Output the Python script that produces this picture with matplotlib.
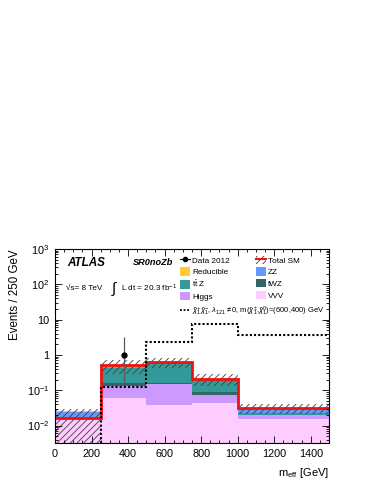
import matplotlib
matplotlib.use('Agg')
import matplotlib.pyplot as plt
import numpy as np
from matplotlib.patches import Patch
from matplotlib.lines import Line2D
from matplotlib.ticker import FixedLocator, FuncFormatter, MultipleLocator, LogLocator, NullFormatter

plt.rcParams['font.family'] = ['Liberation Sans', 'DejaVu Sans']
plt.rcParams['mathtext.fontset'] = 'custom'
plt.rcParams['mathtext.rm'] = 'Liberation Sans'
plt.rcParams['mathtext.it'] = 'Liberation Sans:italic'
plt.rcParams['mathtext.bf'] = 'Liberation Sans:bold'
plt.rcParams['hatch.linewidth'] = 0.6

# ---------------- data ----------------
edges = [0, 250, 500, 750, 1000, 1500]
vvv = [0.0158, 0.060, 0.039, 0.043, 0.0155]
higgs = [0.0005, 0.074, 0.107, 0.032, 0.0038]
twz = [0.0003, 0.026, 0.014, 0.012, 0.0012]
ttz = [0.0004, 0.270, 0.440, 0.113, 0.0015]
zz = [0.0075, 0.012, 0.010, 0.004, 0.0070]
reducible = [0.0005, 0.040, 0.010, 0.003, 0.0010]
total_sm = [0.0162, 0.51, 0.62, 0.208, 0.031]
err_up = [0.013, 0.19, 0.20, 0.08, 0.010]
err_down = [0.0162, 0.23, 0.20, 0.08, 0.010]
signal = [1e-6, 0.12, 2.3, 7.3, 3.7]
data_x = [375]
data_y = [1.0]
data_err_lo = [0.827]
data_err_hi = [2.3]

components = [
    ('VVV', vvv, '#ffccff'),
    ('Higgs', higgs, '#cc99ff'),
    ('tWZ', twz, '#336666'),
    (r't$\bar{\rm t}$ Z', ttz, '#339999'),
    ('ZZ', zz, '#6699ff'),
    ('Reducible', reducible, '#ffcc33'),
]

W, H = 374, 484
fig = plt.figure(figsize=(W / 100, H / 100), dpi=100)
ax = fig.add_axes([55 / W, 1 - 443 / H, 274 / W, 194 / H])
ax.set_yscale('log')
ymin = 3.2e-3
ax.set_xlim(0, 1500)
ax.set_ylim(ymin, 1e3)

floor = 1e-6
bottom = np.full(len(vvv), floor)
handles = {}
for name, vals, col in components:
    top = bottom + np.array(vals)
    ax.stairs(top, edges, baseline=bottom, fill=True, color=col, lw=0)
    handles[name] = Patch(facecolor=col, edgecolor='none')
    bottom = top

tot = np.array(total_sm)
up = tot + np.array(err_up)
dn = np.maximum(tot - np.array(err_down), floor)
ax.stairs(up, edges, baseline=dn, fill=True, facecolor='none', edgecolor='0.25',
          hatch='/////', lw=0)
ax.stairs(tot, edges, baseline=None, color='#ee1111', lw=2.0)
ax.stairs(signal, edges, baseline=None, color='black', lw=1.5, ls=(0, (1, 1)))
ax.errorbar(data_x, data_y, yerr=[data_err_lo, data_err_hi], fmt='o', color='black',
            ms=3.5, elinewidth=0.9, ecolor='0.35', capsize=0)

# ---------------- axes styling ----------------
for sp in ax.spines.values():
    sp.set_linewidth(0.8)
ax.xaxis.set_major_locator(MultipleLocator(200))
ax.xaxis.set_minor_locator(MultipleLocator(50))
ax.yaxis.set_major_locator(FixedLocator([1e-2, 1e-1, 1, 10, 100, 1000]))
ax.yaxis.set_minor_locator(LogLocator(base=10, subs=np.arange(2, 10)))
ax.yaxis.set_minor_formatter(NullFormatter())
ylabels = {1e-2: r'$10^{-2}$', 1e-1: r'$10^{-1}$', 1: '1', 10: '10', 100: r'$10^{2}$', 1000: r'$10^{3}$'}
ax.yaxis.set_major_formatter(FuncFormatter(lambda v, p: min(ylabels.items(), key=lambda kv: abs(np.log10(kv[0]) - np.log10(v)))[1]))
ax.tick_params(which='both', direction='in', top=True, right=True, labelsize=7.8, width=0.6)
ax.tick_params(which='major', length=5, pad=4)
ax.tick_params(which='minor', length=2.5)

ax.set_ylabel('Events / 250 GeV', fontsize=8.3, loc='top', labelpad=4)
ax.set_xlabel(r'm$_{\rm eff}$ [GeV]', fontsize=8.0, loc='right', labelpad=5)

# ---------------- labels ----------------
ax.text(0.044, 0.93, 'ATLAS', transform=ax.transAxes, fontsize=8.4, fontweight='bold',
        fontstyle='italic', va='center', ha='left')
ax.text(0.285, 0.93, 'SR0noZb', transform=ax.transAxes, fontsize=6.6, fontweight='bold',
        fontstyle='italic', va='center', ha='left')
ax.text(0.04, 0.795, '\u221as= 8 TeV', transform=ax.transAxes, fontsize=5.9, va='center', ha='left')
ax.text(0.205, 0.795, r'$\int$', transform=ax.transAxes, fontsize=11, va='center', ha='left')
ax.text(0.242, 0.795, r'L dt = 20.3 fb$^{-1}$', transform=ax.transAxes, fontsize=5.9,
        va='center', ha='left')

# ---------------- legend ----------------
h_data = Line2D([], [], marker='o', color='black', ms=3, lw=0.8)
h_tot = (Patch(facecolor='none', edgecolor='0.25', hatch='/////', lw=0),
         Line2D([], [], color='#ee1111', lw=1.5))
order_h = [h_data, handles['Reducible'], handles[r't$\bar{\rm t}$ Z'], handles['Higgs'],
           h_tot, handles['ZZ'], handles['tWZ'], handles['VVV']]
order_l = ['Data 2012', 'Reducible', r't$\bar{\rm t}$ Z', 'Higgs',
           'Total SM', 'ZZ', 'tWZ', 'VVV']
leg1 = ax.legend(order_h, order_l, ncol=2, loc='upper left', bbox_to_anchor=(0.455, 0.965),
                 frameon=False, fontsize=5.9, handlelength=1.2, handleheight=1.2,
                 handletextpad=0.3, labelspacing=0.32, columnspacing=3.2, borderpad=0,
                 borderaxespad=0)
ax.add_artist(leg1)
h_sig = Line2D([], [], color='black', lw=1.3, ls=(0, (1, 1)))
sig_label = (r'$\tilde{\chi}^{+}_{1}\tilde{\chi}^{-}_{1}$, $\lambda_{121}\neq0$, '
             r'm($\tilde{\chi}^{\pm}_{1}$,$\tilde{\chi}^{0}_{1}$)=(600,400) GeV')
ax.legend([h_sig], [sig_label], loc='upper left', bbox_to_anchor=(0.455, 0.715),
          frameon=False, fontsize=5.5, handlelength=1.3, handletextpad=0.3,
          borderpad=0, borderaxespad=0)

fig.savefig('out.png', dpi=100)
